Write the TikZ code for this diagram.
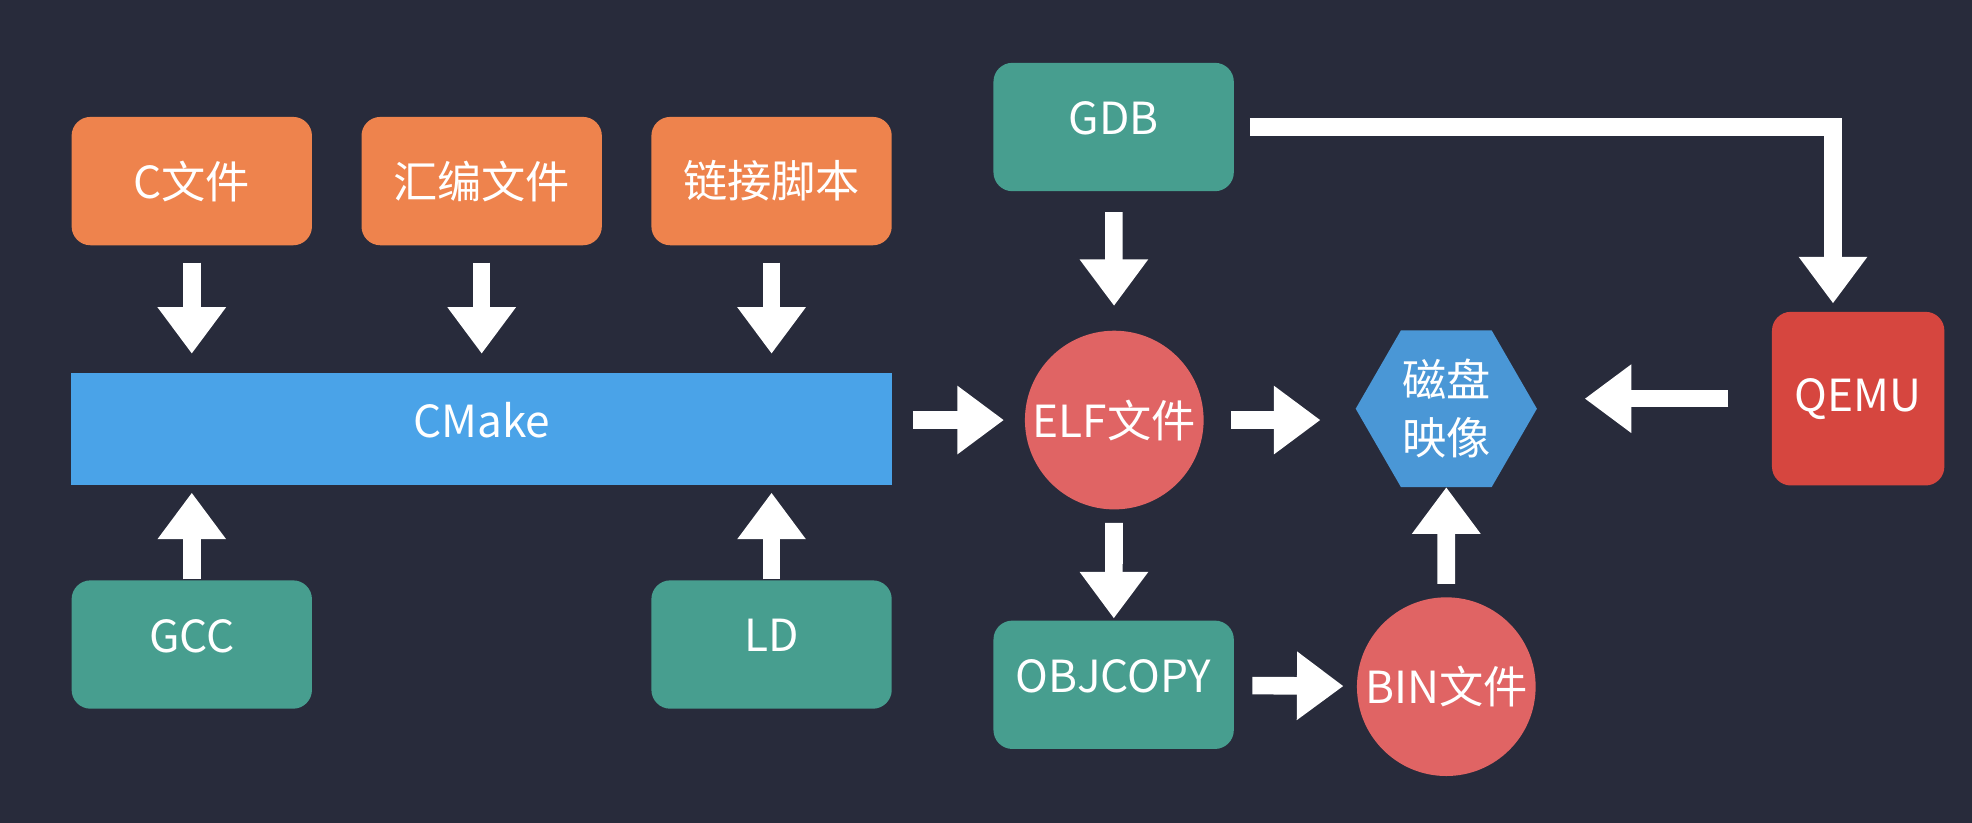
\documentclass[tikz,border=0pt]{standalone}
\usepackage{fontspec}
\setmainfont{Noto Sans CJK SC}
\usetikzlibrary{arrows.meta,shapes.geometric}
\definecolor{bgnavy}{HTML}{282B3B}
\definecolor{fileorange}{HTML}{EE834D}
\definecolor{toolteal}{HTML}{479E8F}
\definecolor{cmakeblue}{HTML}{4AA3E8}
\definecolor{elfred}{HTML}{E06464}
\definecolor{qemured}{HTML}{D6463F}
\definecolor{imgblue}{HTML}{4A97D6}
\begin{document}
\begin{tikzpicture}[x=0.01cm,y=-0.01cm,
  font=\fontsize{10}{13}\selectfont,
  filebox/.style={fill=fileorange,text=white,rounded corners=0.15cm,
    minimum width=1.91cm,minimum height=1.02cm},
  toolbox/.style={fill=toolteal,text=white,rounded corners=0.15cm,
    minimum width=1.91cm,minimum height=1.02cm,text depth=0.14cm},
  filecircle/.style={circle,fill=elfred,text=white,minimum size=1.42cm,inner sep=0pt},
  arr/.style={draw=white,line width=0.14cm,
    -{Triangle[width=0.52cm,length=0.37cm]},
    shorten <=0.13cm,shorten >=0.15cm}]
\fill[bgnavy] (0,0) rectangle (1568,654.4);
% sources
\node[filebox] (cfile) at (152.5,144) {C文件};
\node[filebox] (asmfile) at (383,144) {汇编文件};
\node[filebox] (ldscript) at (613.5,144) {链接脚本};
% build
\node[fill=cmakeblue,text=white,minimum width=6.52cm,minimum height=0.89cm,
  text depth=0.16cm] (cmake) at (383,341.5) {CMake};
\node[toolbox] (gcc) at (152.5,512.5) {GCC};
\node[toolbox] (ld) at (613.5,512.5) {LD};
% outputs
\node[toolbox] (gdb) at (885.5,101) {GDB};
\node[filecircle] (elf) at (886,334) {ELF文件};
\node[toolbox] (objcopy) at (885.5,544.5) {OBJCOPY};
\node[filecircle] (bin) at (1150,546) {BIN文件};
\node[regular polygon,regular polygon sides=6,fill=imgblue,text=white,
  minimum size=1.44cm,inner sep=0pt,outer sep=0pt,align=center,
  font=\fontsize{10}{13}\selectfont] (img) at (1150,325) {磁盘\\映像};
\node[fill=qemured,text=white,rounded corners=0.15cm,
  minimum width=1.37cm,minimum height=1.38cm] (qemu) at (1477.5,317) {QEMU};
% arrows
\draw[arr] (cfile) -- (cfile |- cmake.north);
\draw[arr] (asmfile) -- (asmfile |- cmake.north);
\draw[arr] (ldscript) -- (ldscript |- cmake.north);
\draw[arr,shorten <=0cm,shorten >=0.05cm] (gcc) -- (gcc |- cmake.south);
\draw[arr,shorten <=0cm,shorten >=0.05cm] (ld) -- (ld |- cmake.south);
\draw[arr,shorten <=0.16cm,shorten >=0.16cm] (cmake.east |- elf) -- (elf);
\draw[arr,shorten <=0.16cm,shorten >=0.19cm] (gdb) -- (elf);
\draw[arr,shorten <=0.1cm,shorten >=0.01cm] (elf) -- (objcopy);
\draw[arr,shorten <=0.21cm,shorten >=0.28cm] (elf) -- (elf -| img.west);
\draw[arr,shorten <=0.14cm,shorten >=0.1cm] (objcopy) -- (bin);
\draw[arr,shorten <=0.1cm,shorten >=0cm] (bin) -- (img);
\draw[arr,shorten <=0.34cm,shorten >=0.38cm] (qemu) -- (qemu -| img.east);
\draw[arr,shorten <=0.12cm,shorten >=0.06cm] (gdb.east) -| ([xshift=-0.2cm]qemu.north);
\end{tikzpicture}
\end{document}
